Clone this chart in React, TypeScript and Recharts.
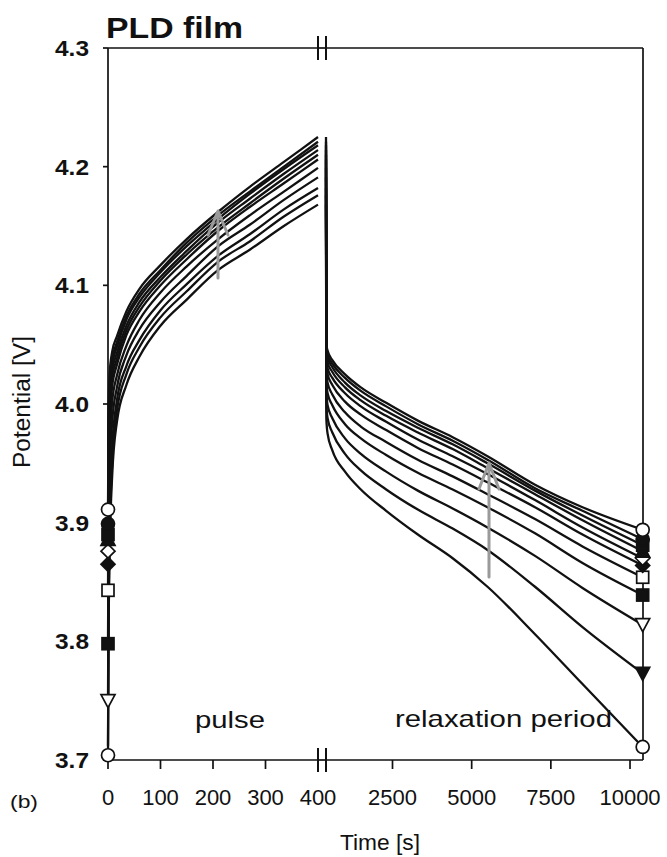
import React from 'react';
import { LineChart, Line, XAxis, YAxis } from 'recharts';

// ---------- data ----------
const pulseTime = [0, 1, 3, 8, 17, 35, 60, 100, 150, 210, 270, 335, 400];
const relaxTime = [400, 410, 450, 600, 1000, 1500, 2300, 3300, 4400, 5500, 7000, 8500, 10400];

const potentialTicks = [3.7, 3.8, 3.9, 4.0, 4.1, 4.2, 4.3];
const pulseTicks = [0, 100, 200, 300, 400];
const relaxTicks = [2500, 5000, 7500, 10000];

const pulse1 = [3.704, 3.800, 3.870, 3.940, 3.985, 4.016, 4.040, 4.066, 4.088, 4.113, 4.130, 4.150, 4.168];
const pulse2 = [3.712, 3.812, 3.885, 3.950, 3.994, 4.025, 4.048, 4.073, 4.095, 4.120, 4.137, 4.158, 4.176];
const pulse3 = [3.750, 3.842, 3.906, 3.964, 4.003, 4.032, 4.054, 4.079, 4.101, 4.125, 4.143, 4.164, 4.182];
const pulse4 = [3.798, 3.886, 3.937, 3.985, 4.014, 4.041, 4.063, 4.086, 4.108, 4.133, 4.151, 4.172, 4.191];
const pulse5 = [3.843, 3.927, 3.963, 4.002, 4.024, 4.049, 4.071, 4.094, 4.116, 4.139, 4.159, 4.179, 4.199];
const pulse6 = [3.865, 3.948, 3.982, 4.015, 4.033, 4.058, 4.078, 4.100, 4.122, 4.146, 4.166, 4.186, 4.206];
const pulse7 = [3.876, 3.958, 3.992, 4.022, 4.038, 4.062, 4.082, 4.104, 4.126, 4.149, 4.169, 4.190, 4.210];
const pulse8 = [3.886, 3.967, 4.001, 4.028, 4.043, 4.066, 4.086, 4.107, 4.129, 4.153, 4.173, 4.194, 4.214];
const pulse9 = [3.890, 3.971, 4.008, 4.033, 4.048, 4.071, 4.090, 4.111, 4.133, 4.156, 4.177, 4.198, 4.218];
const pulse10 = [3.899, 3.979, 4.015, 4.037, 4.052, 4.074, 4.093, 4.113, 4.136, 4.159, 4.179, 4.200, 4.221];
const pulse11 = [3.911, 3.990, 4.025, 4.044, 4.057, 4.078, 4.097, 4.117, 4.139, 4.162, 4.183, 4.204, 4.225];

const relax1 = [4.168, 3.988, 3.975, 3.961, 3.943, 3.928, 3.910, 3.890, 3.870, 3.846, 3.806, 3.764, 3.711];
const relax2 = [4.176, 4.000, 3.988, 3.976, 3.958, 3.944, 3.928, 3.911, 3.895, 3.877, 3.846, 3.812, 3.773];
const relax3 = [4.182, 4.010, 3.999, 3.988, 3.971, 3.958, 3.943, 3.927, 3.912, 3.896, 3.872, 3.845, 3.814];
const relax4 = [4.191, 4.020, 4.009, 3.999, 3.983, 3.971, 3.957, 3.942, 3.928, 3.913, 3.891, 3.866, 3.839];
const relax5 = [4.199, 4.028, 4.018, 4.008, 3.993, 3.981, 3.968, 3.953, 3.939, 3.924, 3.903, 3.880, 3.854];
const relax6 = [4.206, 4.034, 4.025, 4.016, 4.002, 3.991, 3.978, 3.963, 3.949, 3.934, 3.913, 3.890, 3.864];
const relax7 = [4.210, 4.038, 4.030, 4.022, 4.009, 3.998, 3.985, 3.970, 3.956, 3.941, 3.919, 3.896, 3.870];
const relax8 = [4.214, 4.042, 4.035, 4.027, 4.014, 4.003, 3.990, 3.976, 3.962, 3.946, 3.924, 3.902, 3.876];
const relax9 = [4.218, 4.045, 4.039, 4.031, 4.018, 4.007, 3.994, 3.980, 3.966, 3.950, 3.927, 3.906, 3.881];
const relax10 = [4.221, 4.048, 4.042, 4.034, 4.022, 4.011, 3.998, 3.983, 3.969, 3.953, 3.929, 3.910, 3.886];
const relax11 = [4.225, 4.050, 4.045, 4.037, 4.025, 4.014, 4.001, 3.986, 3.972, 3.956, 3.932, 3.913, 3.894];

const pulseSeries = [pulse1, pulse2, pulse3, pulse4, pulse5, pulse6, pulse7, pulse8, pulse9, pulse10, pulse11];
const relaxSeries = [relax1, relax2, relax3, relax4, relax5, relax6, relax7, relax8, relax9, relax10, relax11];

// ---------- styles ----------
const FONT = '"Liberation Sans", Arial, Helvetica, sans-serif';
const INK = '#111111';
const startMarkers = [
  'circleOpen', 'none', 'triDownOpen', 'squareFilled', 'squareOpen',
  'diamondFilled', 'diamondOpen', 'triUpFilled', 'squareFilled', 'circleFilled', 'circleOpen',
];
const endMarkers = [
  'circleOpen', 'triDownFilled', 'triDownOpen', 'squareFilled', 'squareOpen',
  'diamondFilled', 'diamondOpen', 'triUpFilled', 'squareFilled', 'circleFilled', 'circleOpen',
];

const buildRows = (times: number[], series: number[][]) =>
  times.map((t, i) => {
    const row: Record<string, number> = { t };
    series.forEach((s, k) => {
      row[`s${k + 1}`] = s[i];
    });
    return row;
  });

const pulseRows = buildRows(pulseTime, pulseSeries);
const relaxRows = buildRows(relaxTime, relaxSeries);

const Marker = ({ cx, cy, shape }: { cx: number; cy: number; shape: string }) => {
  const filled = shape.endsWith('Filled');
  const fill = filled ? INK : '#fff';
  const sw = 1.7;
  if (shape === 'none') return null;
  if (shape.startsWith('circle')) return <circle cx={cx} cy={cy} r={6.5} fill={fill} stroke={INK} strokeWidth={sw} />;
  if (shape.startsWith('square')) return <rect x={cx - 6} y={cy - 6} width={12} height={12} fill={fill} stroke={INK} strokeWidth={sw} />;
  if (shape.startsWith('diamond'))
    return <polygon points={`${cx},${cy - 7} ${cx + 7},${cy} ${cx},${cy + 7} ${cx - 7},${cy}`} fill={fill} stroke={INK} strokeWidth={sw} />;
  if (shape.startsWith('triDown'))
    return <polygon points={`${cx - 7},${cy - 6} ${cx + 7},${cy - 6} ${cx},${cy + 7}`} fill={fill} stroke={INK} strokeWidth={sw} />;
  return <polygon points={`${cx - 7},${cy + 6} ${cx + 7},${cy + 6} ${cx},${cy - 7}`} fill={fill} stroke={INK} strokeWidth={sw} />;
};

const makeDot = (k: number, which: 'first' | 'last', count: number) => (props: any) => {
  const { cx, cy, index } = props;
  const show = which === 'first' ? index === 0 : index === count - 1;
  const shape = which === 'first' ? startMarkers[k] : endMarkers[k];
  if (!show || cx == null || cy == null || shape === 'none') return <g key={`d-${which}-${k}-${index}`} />;
  return (
    <g key={`d-${which}-${k}-${index}`}>
      <Marker cx={cx} cy={cy} shape={shape} />
    </g>
  );
};

const YTick = (props: any) => {
  const { x, y, payload } = props;
  return (
    <text x={x} y={y} dy="0.36em" textAnchor="end" fontFamily={FONT} fontWeight="bold" fontSize={22}
      fill={INK} textLength={34} lengthAdjust="spacingAndGlyphs">
      {Number(payload.value).toFixed(1)}
    </text>
  );
};

const XTick = (props: any) => {
  const { x, y, payload } = props;
  return (
    <text x={x} y={y} dy="0.71em" textAnchor="middle" fontFamily={FONT} fontSize={22} fill={INK}>
      {payload.value}
    </text>
  );
};

const axisLine = { stroke: INK, strokeWidth: 1.7 };
const tickLine = { stroke: INK, strokeWidth: 1.7 };
const svgStyle = { overflow: 'visible' as const };

export default function App() {
  return (
    <div style={{ position: 'absolute', left: 0, top: 0, width: 667, height: 857, background: '#fff', fontFamily: FONT, overflow: 'hidden' }}>
      {/* pulse segment */}
      <div style={{ position: 'absolute', left: 0, top: 0 }}>
        <LineChart width={360} height={857} data={pulseRows} margin={{ top: 48, right: 42, bottom: 67, left: 58 }} style={svgStyle}>
          <XAxis xAxisId="b" dataKey="t" type="number" domain={[0, 400]} ticks={pulseTicks} orientation="bottom"
            height={30} tickSize={9} tickMargin={20} axisLine={axisLine} tickLine={tickLine} tick={<XTick />} interval={0} />
          <XAxis xAxisId="top" dataKey="t" type="number" domain={[0, 400]} ticks={pulseTicks} orientation="top" mirror
            tickSize={10} axisLine={axisLine} tickLine={tickLine} tick={false} interval={0} />
          <YAxis type="number" domain={[3.7, 4.3]} ticks={potentialTicks} width={50} tickSize={5} tickMargin={14}
            axisLine={axisLine} tickLine={tickLine} tick={<YTick />} interval={0} />
          {pulseSeries.map((_, k) => (
            <Line key={`p${k}`} xAxisId="b" dataKey={`s${k + 1}`} type="monotone" stroke={INK} strokeWidth={2.3}
              dot={makeDot(k, 'first', pulseTime.length)} activeDot={false} isAnimationActive={false} />
          ))}
        </LineChart>
      </div>

      {/* relaxation segment */}
      <div style={{ position: 'absolute', left: 316, top: 0 }}>
        <LineChart width={351} height={857} data={relaxRows} margin={{ top: 48, right: 24, bottom: 67, left: 10 }} style={svgStyle}>
          <XAxis xAxisId="b" dataKey="t" type="number" domain={[400, 10410]} ticks={relaxTicks} orientation="bottom"
            height={30} tickSize={9} tickMargin={20} axisLine={axisLine} tickLine={tickLine} tick={<XTick />} interval={0} />
          <XAxis xAxisId="top" dataKey="t" type="number" domain={[400, 10410]} ticks={relaxTicks} orientation="top" mirror
            tickSize={10} axisLine={axisLine} tickLine={tickLine} tick={false} interval={0} />
          <YAxis type="number" domain={[3.7, 4.3]} ticks={potentialTicks} orientation="right" mirror tickSize={8}
            axisLine={axisLine} tickLine={tickLine} tick={false} interval={0} />
          {relaxSeries.map((_, k) => (
            <Line key={`r${k}`} xAxisId="b" dataKey={`s${k + 1}`} type="monotone" stroke={INK} strokeWidth={2.3}
              dot={makeDot(k, 'last', relaxTime.length)} activeDot={false} isAnimationActive={false} />
          ))}
        </LineChart>
      </div>

      {/* annotations */}
      <svg width={667} height={857} style={{ position: 'absolute', left: 0, top: 0, pointerEvents: 'none' }}>
        <text x={106} y={38} fontFamily={FONT} fontWeight="bold" fontSize={29} fill={INK} textLength={137} lengthAdjust="spacingAndGlyphs">PLD film</text>
        <text transform="translate(30,402) rotate(-90)" textAnchor="middle" fontFamily={FONT} fontSize={23} fill={INK}
          textLength={132} lengthAdjust="spacingAndGlyphs">Potential [V]</text>
        <text x={195} y={728} fontFamily={FONT} fontSize={24} fill={INK} textLength={70} lengthAdjust="spacingAndGlyphs">pulse</text>
        <text x={395} y={727} fontFamily={FONT} fontSize={24} fill={INK} textLength={217} lengthAdjust="spacingAndGlyphs">relaxation period</text>
        <text x={340} y={850} fontFamily={FONT} fontSize={22} fill={INK} textLength={80} lengthAdjust="spacingAndGlyphs">Time [s]</text>
        <text x={10} y={808} fontFamily={FONT} fontSize={18} fill={INK} textLength={28} lengthAdjust="spacingAndGlyphs">(b)</text>

        {/* axis break marks */}
        <line x1={318} y1={48} x2={326} y2={48} stroke={INK} strokeWidth={1.7} />
        <line x1={318} y1={760} x2={326} y2={760} stroke={INK} strokeWidth={1.7} />
        {[318, 326].map((bx) => (
          <g key={bx}>
            <line x1={bx} y1={36} x2={bx} y2={60} stroke={INK} strokeWidth={2} />
            <line x1={bx} y1={748} x2={bx} y2={772} stroke={INK} strokeWidth={2} />
          </g>
        ))}

        {/* trend arrows */}
        <g stroke="#9a9a9a" strokeWidth={3} fill="none" strokeLinecap="round" strokeLinejoin="round">
          <line x1={218} y1={278} x2={218} y2={213} />
          <polyline points="208,235 218,211 228,235" />
          <line x1={489} y1={577} x2={489} y2={465} />
          <polyline points="479,489 489,463 499,489" />
        </g>
      </svg>
    </div>
  );
}
